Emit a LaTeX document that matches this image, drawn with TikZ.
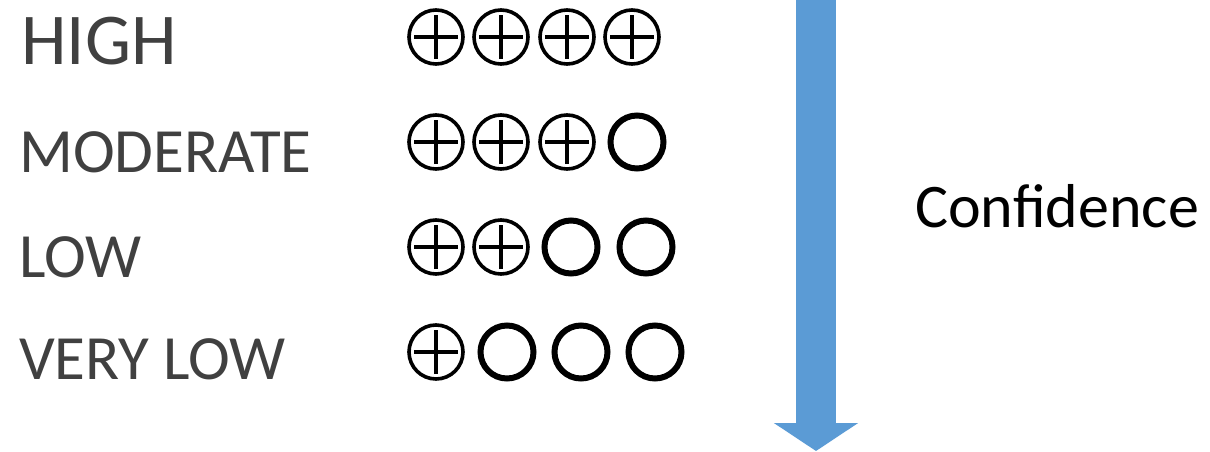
\documentclass[tikz,border=0pt]{standalone}
\usepackage{fontspec}
\setmainfont{Carlito}
\usetikzlibrary{arrows.meta}
\definecolor{labelgray}{HTML}{404040}
\definecolor{arrowblue}{HTML}{5B9BD5}
\tikzset{
  lvl/.style={anchor=base west, inner sep=0pt, text=labelgray, font=\fontsize{63}{70}\selectfont},
  lvlbig/.style={lvl, font=\fontsize{73}{80}\selectfont},
  pc/.style={circle, draw=black, line width=3.6pt, minimum size=54pt, inner sep=0pt,
    path picture={
      \draw[line width=4pt, black] ([xshift=-22pt]path picture bounding box.center) -- ([xshift=22pt]path picture bounding box.center);
      \draw[line width=4pt, black] ([yshift=-22pt]path picture bounding box.center) -- ([yshift=22pt]path picture bounding box.center);
    }},
  oc/.style={circle, draw=black, line width=6pt, minimum size=53pt, inner sep=0pt},
}
\begin{document}
\begin{tikzpicture}[x=1pt, y=-1pt]
\useasboundingbox (0,0) rectangle (1210,452);
% labels
\node[lvlbig] (high) at (21,65) {HIGH};
\node[lvl] (moderate) at (19,172) {MODERATE};
\node[lvl] (low) at (19,277) {LOW};
\node[lvl] (verylow) at (19,379) {VERY LOW};
% row 1
\node[pc] (a1) at (436,37) {};
\node[pc] (a2) at (501,37) {};
\node[pc] (a3) at (567,37) {};
\node[pc] (a4) at (632,37) {};
% row 2
\node[pc] (b1) at (436,142) {};
\node[pc] (b2) at (501,142) {};
\node[pc] (b3) at (567,142) {};
\node[oc] (b4) at (637,142) {};
% row 3
\node[pc] (c1) at (436,247) {};
\node[pc] (c2) at (501,247) {};
\node[oc] (c3) at (571,247) {};
\node[oc] (c4) at (646,247) {};
% row 4
\node[pc] (d1) at (436,352) {};
\node[oc] (d2) at (507,352) {};
\node[oc] (d3) at (581,352) {};
\node[oc] (d4) at (655,352) {};
% arrow
\coordinate (atop) at (816,-1);
\coordinate (atip) at (816,451);
\draw[arrowblue, line width=40pt, -{Triangle[width=83pt,length=28pt]}] (atop) -- (atip);
\node[anchor=base west, inner sep=0pt, text=black, font=\fontsize{62}{70}\selectfont] (conf) at (915,227) {Confidence};
\end{tikzpicture}
\end{document}
